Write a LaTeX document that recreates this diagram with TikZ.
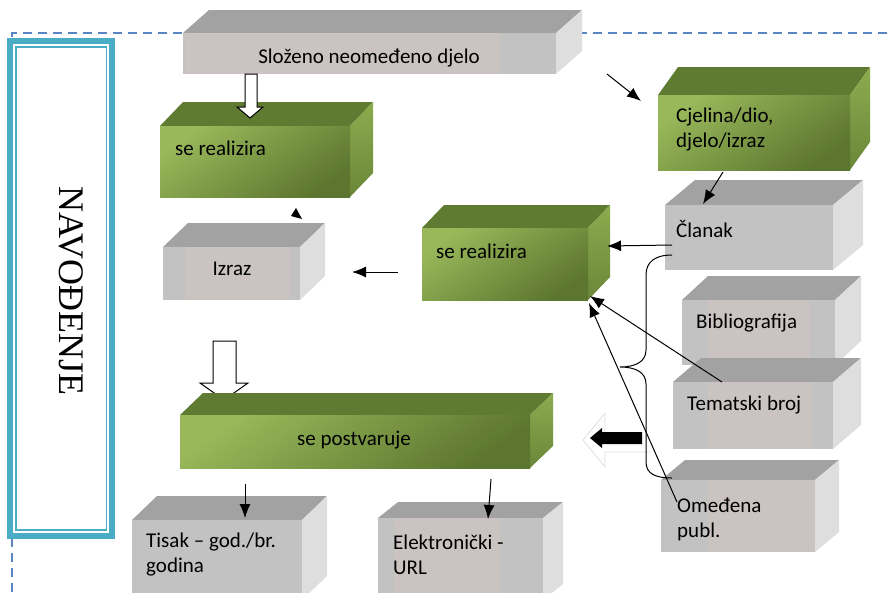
\documentclass[tikz,border=0pt]{standalone}
\usepackage{fontspec}
\setmainfont{Carlito}
\newfontfamily\navfont{Liberation Serif}
\usetikzlibrary{fit,arrows.meta}
\definecolor{tealframe}{HTML}{4BACC6}
\definecolor{dashblue}{HTML}{5B85C2}
\definecolor{greytopc}{HTML}{A2A2A2}
\definecolor{greyfrontc}{HTML}{C2C2C3}
\definecolor{greysidec}{HTML}{DEDEDE}
\definecolor{pinkc}{HTML}{CBC3C1}
\definecolor{greentopc}{HTML}{5F7B31}
\definecolor{greensidec}{HTML}{8CAC4F}
\definecolor{greenlight}{HTML}{98B85A}
\definecolor{greendark}{HTML}{5C762F}
\tikzset{
  greytop/.style={fill=greytopc},
  greyside/.style={fill=greysidec},
  greyfront/.style={fill=greyfrontc},
  greentop/.style={fill=greentopc},
  greenside/.style={top color=greensidec, bottom color=greendark!70!greensidec},
  greenfront/.style={top color=greenlight, bottom color=greendark, shading angle=35},
  pinkband/.style={fill=pinkc},
  lbl/.style={font=\fontsize{21}{25}\selectfont, inner sep=0, text=black, align=left},
  thinarrow/.style={line width=1pt, -{Latex[length=14pt,width=11pt]}},
  hollowarrow/.style={draw=black, fill=white, line width=1pt, line join=miter},
  dashline/.style={draw=dashblue, line width=1.3pt, dash pattern=on 9pt off 6pt},
}
\newcommand{\cuboid}[8]{%
  \path[#2top] (#3,#4) -- ({#3+(#7)},{#4+(#8)}) -- ({#5+(#7)},{#4+(#8)}) -- (#5,#4) -- cycle;
  \path[#2side] (#5,#4) -- ({#5+(#7)},{#4+(#8)}) -- ({#5+(#7)},{#6+(#8)}) -- (#5,#6) -- cycle;
  \path[#2front] (#3,#4) rectangle (#5,#6);
  \node[inner sep=0, fit={(#3,#4) (#5,#6)}] (#1) {};
}
\begin{document}
\begin{tikzpicture}[x=1pt,y=-1pt]
\clip (0,0) rectangle (891,592);
\fill[white] (0,0) rectangle (891,592);

% dashed frame lines
\draw[dashline] (12,592) -- (12,33) -- (891,33);

% NAVODJENJE frame
\draw[tealframe, line width=6pt, fill=white] (10,41) rectangle (112,536);
\draw[tealframe, line width=1.5pt] (16,47) rectangle (106.5,530);
\node[rotate=-90, inner sep=0, font=\navfont\fontsize{36}{40}\selectfont] (nav) at (71,291) {NAVOĐENJE};

% hollow block arrow under se postvaruje
\path[hollowarrow] (213,341) -- (236,341) -- (236,383) -- (248,383) -- (224,400) -- (200,383) -- (213,383) -- cycle;

% boxes
\cuboid{slozeno}{grey}{183}{33}{556}{74}{26}{-23}
\fill[pinkband] (185,33) rectangle (500,74);
\cuboid{real1}{green}{160}{126}{350}{197}{23}{-24}
\cuboid{cjelina}{green}{658}{95}{850}{170}{20}{-28}
\cuboid{izraz}{grey}{163}{247}{300}{300}{25}{-24}
\fill[pinkband] (185,247) rectangle (290,300);
\cuboid{real2}{green}{422}{228}{588}{300}{22}{-23}
\cuboid{clanak}{grey}{665}{205}{833}{270}{30}{-25}
\cuboid{biblio}{grey}{682}{300}{835}{365}{26}{-24}
\fill[pinkband] (708,300) rectangle (810,365);
\cuboid{tematski}{grey}{673}{382}{833}{449}{28}{-24}
\fill[pinkband] (708,382) rectangle (812,449);
\cuboid{omedjena}{grey}{661}{480}{815}{552}{24}{-20}
\fill[pinkband] (708,480) rectangle (815,552);
\cuboid{postv}{green}{180}{415}{530}{468}{23}{-22}
\cuboid{tisak}{grey}{132}{520}{302}{600}{25}{-24}
\cuboid{elektro}{grey}{378}{518}{543}{600}{20}{-16}
\fill[pinkband] (395,518) rectangle (500,600);

% labels
\node[lbl, anchor=base] (t1) at (369,63) {Složeno neomeđeno djelo};
\node[lbl, anchor=base west] (t2) at (175,155) {se realizira};
\node[lbl, anchor=west] (t3) at (676,130) {Cjelina/dio,\\djelo/izraz};
\node[lbl, anchor=base] (t4) at (232,275) {Izraz};
\node[lbl, anchor=base west] (t5) at (436,258) {se realizira};
\node[lbl, anchor=base west] (t6) at (676,237) {Članak};
\node[lbl, anchor=base west] (t7) at (696,328) {Bibliografija};
\node[lbl, anchor=base west] (t8) at (687,410) {Tematski broj};
\node[lbl, anchor=west] (t9) at (677,519) {Omeđena\\publ.};
\node[lbl, anchor=base] (t10) at (354,445) {se postvaruje};
\node[lbl, anchor=west] (t11) at (146,555) {Tisak – god./br.\\godina};
\node[lbl, anchor=west] (t12) at (393,555) {Elektronički -\\URL};

% hollow block arrow from slozeno to real1
\path[hollowarrow] (245,74) -- (257,74) -- (257,107) -- (263,107) -- (250,118) -- (237,107) -- (245,107) -- cycle;

% black block arrow with faint outline
\draw[gray!25, line width=0.8pt] (650,452) -- (605,452) -- (605,467) -- (583,440) -- (605,413) -- (605,437);
\fill[black] (590,438) -- (602,428) -- (602,432) -- (642,432) -- (642,444) -- (602,444) -- (602,448) -- cycle;

% brace
\draw[line width=1pt] (672,255) .. controls (655,255) and (646,262) .. (646,275) -- (646,350)
  .. controls (646,362) and (635,367) .. (620,367)
  .. controls (635,367) and (646,372) .. (646,384) -- (646,462)
  .. controls (646,474) and (656,478) .. (672,478);

% thin arrows
\coordinate (a1s) at (607,74);
\coordinate (a1e) at (641,101);
\draw[thinarrow] (a1s) -- (a1e);
\coordinate (a2s) at (723,172);
\coordinate (a2e) at (703,204);
\draw[thinarrow] (a2s) -- (a2e);
\coordinate (a3s) at (398,272);
\coordinate (a3e) at (352,272);
\draw[thinarrow] (a3s) -- (a3e);
\coordinate (a4s) at (672,245);
\coordinate (a4e) at (607,246);
\draw[thinarrow] (a4s) -- (a4e);
\coordinate (a5s) at (722,382);
\coordinate (a5e) at (590,296);
\draw[thinarrow] (a5s) -- (a5e);
\coordinate (a6s) at (677,502);
\coordinate (a6e) at (589,303);
\draw[thinarrow] (a6s) -- (a6e);
\coordinate (a7s) at (245,484);
\coordinate (a7e) at (245,518);
\draw[thinarrow] (a7s) -- (a7e);
\coordinate (a8s) at (491,479);
\coordinate (a8e) at (488,519);
\draw[thinarrow] (a8s) -- (a8e);
% lone arrowhead above Izraz
\fill (296,208) -- (291,216) -- (302,219) -- cycle;
\end{tikzpicture}
\end{document}
